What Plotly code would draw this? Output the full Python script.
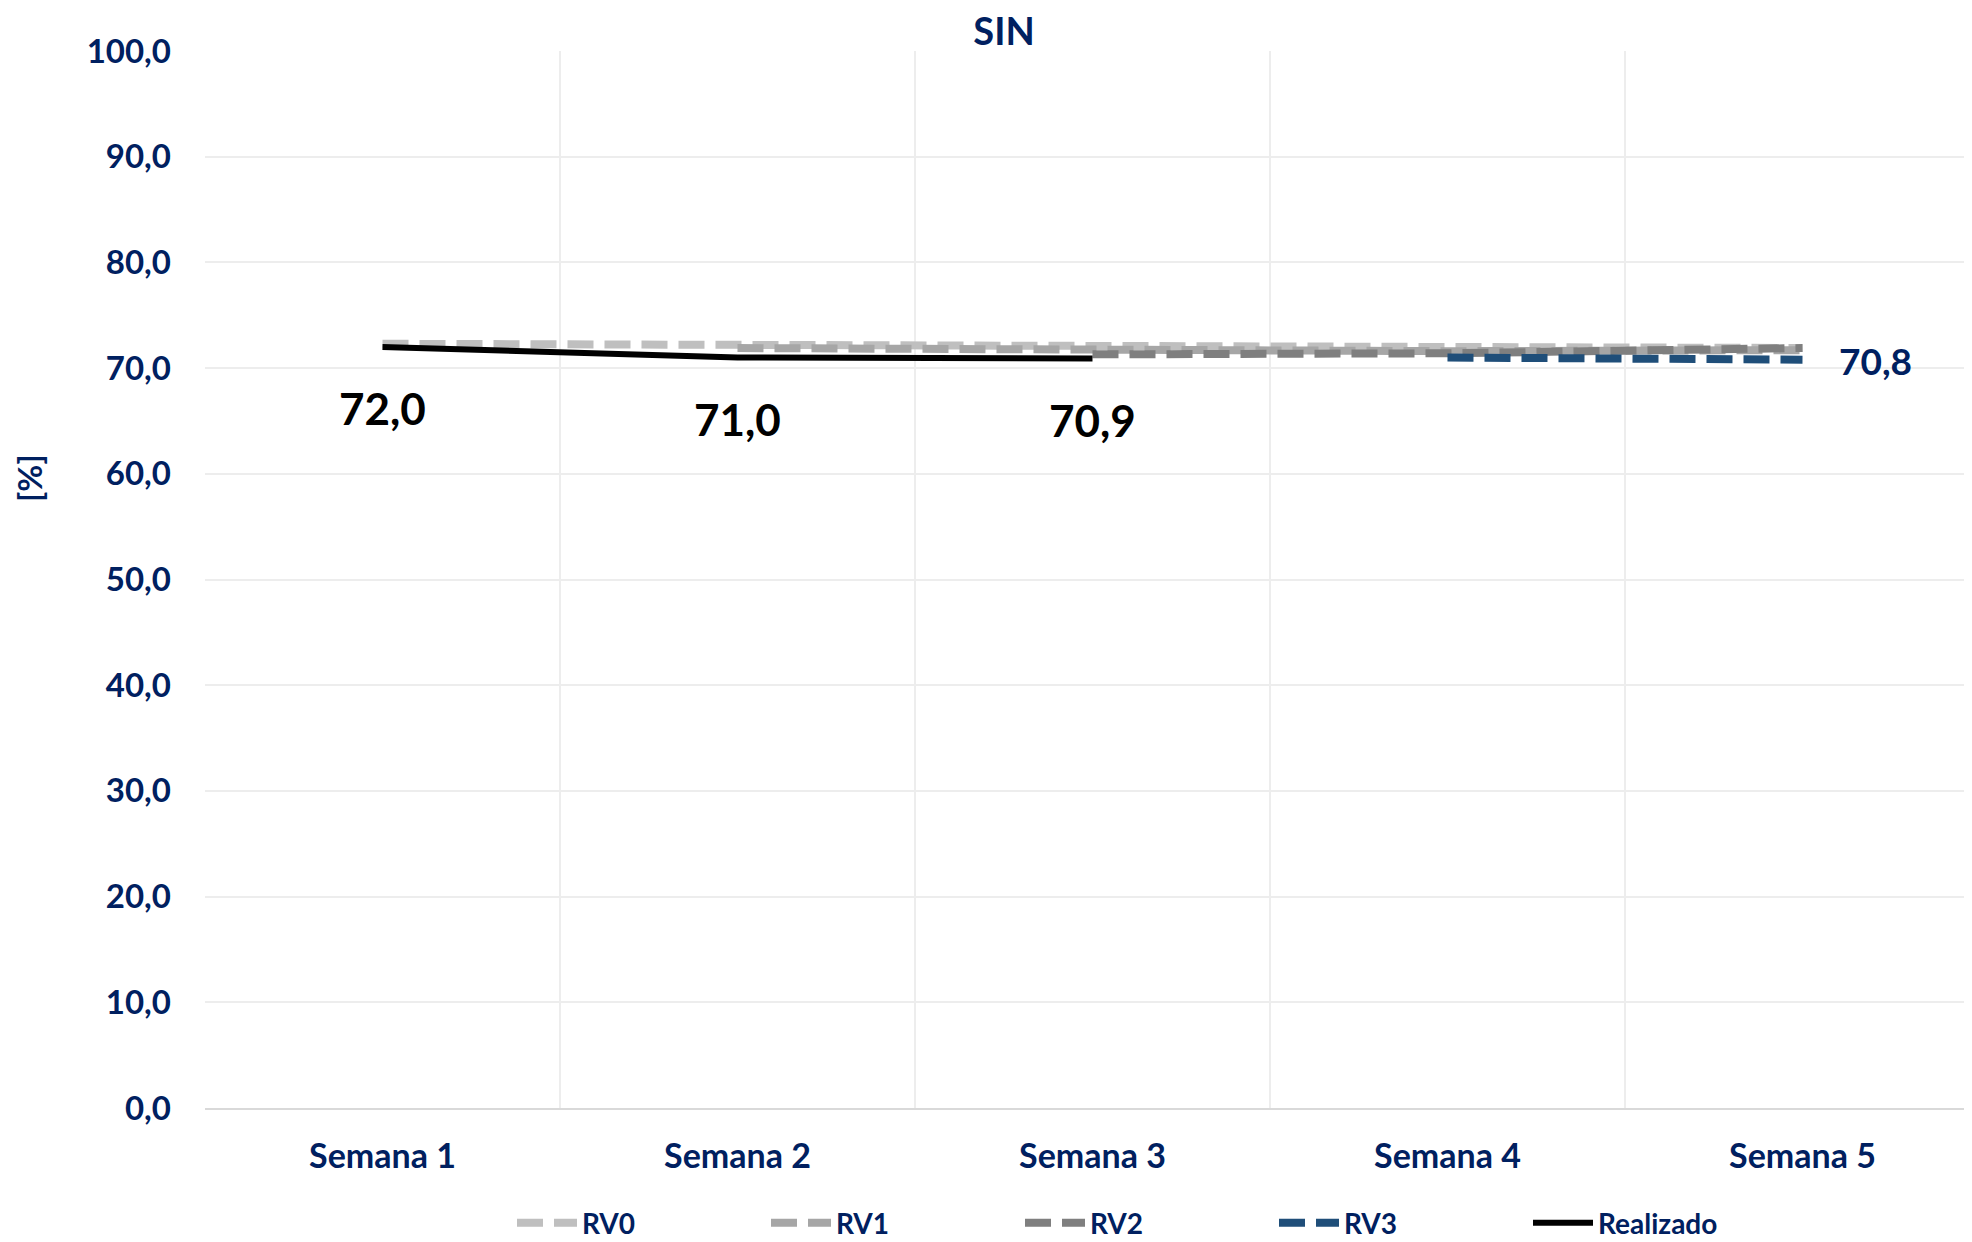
import plotly.graph_objects as go

categories = ["Semana 1", "Semana 2", "Semana 3", "Semana 4", "Semana 5"]
rv0 = [72.3, 72.2, 72.0, 71.9, 71.9]
rv1 = [None, 71.9, 71.7, 71.6, 71.7]
rv2 = [None, None, 71.3, 71.4, 71.9]
rv3 = [None, None, None, 71.0, 70.8]
realizado = [72.0, 71.0, 70.9, None, None]
y_ticks = [0, 10, 20, 30, 40, 50, 60, 70, 80, 90, 100]

NAVY = "#002060"
FONT = "Lato, 'Open Sans', sans-serif"

# page has an 8px body margin around the figure
FIG_W, FIG_H = 1964, 1234
L, T = 197, 43
PLOT_W = FIG_W - L
PLOT_H = 1057
B = FIG_H - T - PLOT_H
CAT_PX = 355

series = [
    ("RV0", rv0, "#BFBFBF", 8, "26px,11px"),
    ("RV1", rv1, "#A6A6A6", 8, "26px,11px"),
    ("RV2", rv2, "#7F7F7F", 8, "26px,11px"),
    ("RV3", rv3, "#1F4E79", 8, "26px,11px"),
    ("Realizado", realizado, "#000000", 6, "solid"),
]

fig = go.Figure()
for name, vals, color, width, dash in series:
    fig.add_trace(go.Scatter(
        x=categories, y=vals, name=name, mode="lines",
        line=dict(color=color, width=width, dash=dash),
        connectgaps=False,
    ))

def fmt(v):
    return f"{v:.1f}".replace(".", ",")

# data labels for Realizado (below points)
for c, v in zip(categories, realizado):
    if v is not None:
        fig.add_annotation(x=c, y=v, text=fmt(v), showarrow=False,
                           yshift=-61, font=dict(family=FONT, size=44, color="#000000"))
# label for last RV3 point
last_idx = max(i for i, v in enumerate(rv3) if v is not None)
fig.add_annotation(x=categories[last_idx], y=rv3[last_idx], text=fmt(rv3[last_idx]),
                   showarrow=False, xanchor="left", xshift=34, yshift=-1,
                   font=dict(family=FONT, size=37, color=NAVY))

# y-axis title
fig.add_annotation(xref="paper", yref="paper", x=(21 - L) / PLOT_W,
                   y=(T + PLOT_H - 470) / PLOT_H,
                   text="[%]", textangle=-90, showarrow=False,
                   xanchor="center", yanchor="middle",
                   font=dict(family=FONT, size=33, color=NAVY))

fig.update_layout(
    width=FIG_W, height=FIG_H,
    margin=dict(l=L, r=0, t=T, b=B),
    paper_bgcolor="white", plot_bgcolor="white",
    separators=",.",
    font=dict(family=FONT, color=NAVY, size=30),
    title=dict(text="<b>SIN</b>", x=(1004 - 8) / FIG_W, xanchor="center", xref="container",
               y=1 - 24 / FIG_H, yanchor="middle", yref="container",
               font=dict(family=FONT, size=38, color=NAVY)),
    showlegend=True,
    legend=dict(orientation="h", xref="container", yref="container",
                x=504 / FIG_W, xanchor="left",
                y=1 - 1215 / FIG_H, yanchor="middle",
                font=dict(family=FONT, size=28, color=NAVY, weight="bold"),
                entrywidth=179, itemwidth=60, bgcolor="rgba(0,0,0,0)"),
)
fig.update_xaxes(
    type="category", range=[-0.5, -0.5 + PLOT_W / CAT_PX], tickson="boundaries",
    showgrid=True, gridcolor="#EDEDED", gridwidth=1.5,
    showline=True, linecolor="#D9D9D9", linewidth=2,
    ticks="", ticklabelstandoff=17,
    tickfont=dict(family=FONT, size=34, color=NAVY, weight="bold"),
)
fig.update_yaxes(
    range=[0, 100], tickvals=y_ticks, tickformat=".1f",
    showgrid=True, gridcolor="#EDEDED", gridwidth=1.5, zeroline=False,
    showline=False, ticks="", ticklabelstandoff=33,
    tickfont=dict(family=FONT, size=33, color=NAVY, weight="bold"),
)
for a in fig.layout.annotations:
    a.font.weight = "bold"

fig.write_html("out.html")
